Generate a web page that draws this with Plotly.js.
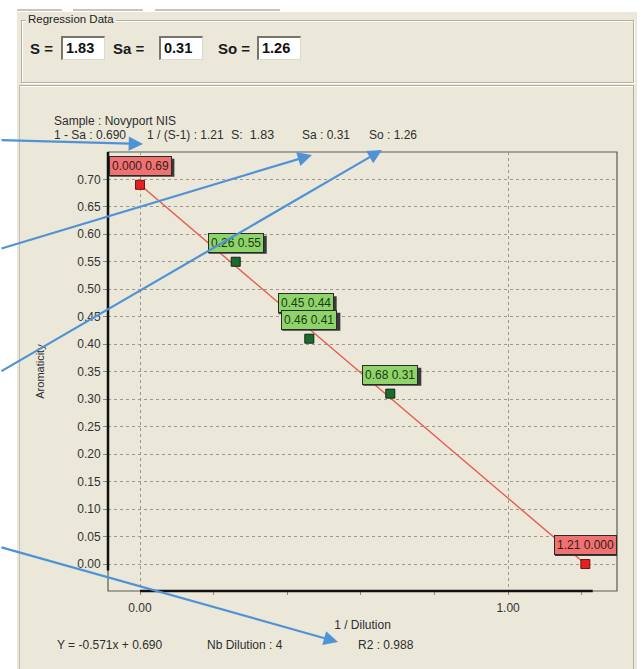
<!DOCTYPE html>
<html>
<head>
<meta charset="utf-8">
<script src="https://cdn.plot.ly/plotly-3.0.1.min.js"></script>
<style>
  html, body { margin:0; padding:0; background:#ffffff; }
  #stage { position:absolute; left:0; top:0; width:643px; height:669px; overflow:hidden;
           font-family:"Liberation Sans", Arial, sans-serif; }
  .abs { position:absolute; }
  #win { left:17px; top:12px; width:620px; height:657px; background:#ebe8da; }
  .tab { height:2px; background:#c8c6bc; top:9px; }
  #group { left:21px; top:20px; width:611px; height:61px; border:1px solid #b3b0a2;
           box-shadow: inset 1px 1px 0 #ffffff, 1px 1px 0 #ffffff; }
  #glegend { left:26px; top:13px; font-size:11.5px; color:#222; background:#ebe8da; padding:0 2px; }
  .lbl { font-size:15px; font-weight:bold; color:#1a1a1a; top:40px; }
  .box { top:36px; width:44px; height:24px; background:#fff;
         border-top:2px solid #77756c; border-left:2px solid #77756c;
         border-right:1px solid #dcdad0; border-bottom:1px solid #dcdad0;
         font-size:14.5px; font-weight:bold; color:#111; box-sizing:border-box; padding:2px 0 0 3px; }
  #panel { left:19px; top:85px; width:613px; height:590px; border-top:1px solid #b3b0a2;
           border-left:1px solid #c4c1b4; border-right:1px solid #b3b0a2;
           box-shadow: inset 0 1px 0 #ffffff; }
  #plot { position:absolute; left:0; top:0; width:643px; height:669px; }
</style>
</head>
<body>
<div id="stage">
  <div id="win" class="abs"></div>
  <div class="abs tab" style="left:17px;width:45px;"></div>
  <div class="abs tab" style="left:73px;width:70px;"></div>
  <div class="abs tab" style="left:155px;width:125px;"></div>
  <div id="group" class="abs"></div>
  <div id="glegend" class="abs">Regression Data</div>
  <div class="abs lbl" style="left:30px;">S =</div>
  <div class="abs box" id="boxS" style="left:61px;"></div>
  <div class="abs lbl" style="left:113px;">Sa =</div>
  <div class="abs box" id="boxSa" style="left:159px;"></div>
  <div class="abs lbl" style="left:218px;">So =</div>
  <div class="abs box" id="boxSo" style="left:257px;"></div>
  <div id="panel" class="abs"></div>
  <div id="plot"></div>
</div>
<script>
// ---------- data ----------
const S = 1.83, Sa = 0.31, So = 1.26;
const sampleName = 'Novyport NIS';
const oneMinusSa = 0.690, invSminus1 = 1.21;
const slope = -0.571, intercept = 0.690, nbDilution = 4, r2 = 0.988;
const dilutionX = [0.26, 0.45, 0.46, 0.68];
const aromaticityY = [0.55, 0.44, 0.41, 0.31];
const interceptX = [0.000, 1.21];
const interceptY = [0.69, 0.000];
const xTickVals = [0, 1];
const xTickText = ['0.00', '1.00'];

document.getElementById('boxS').textContent = S.toFixed(2);
document.getElementById('boxSa').textContent = Sa.toFixed(2);
document.getElementById('boxSo').textContent = So.toFixed(2);

// ---------- geometry helpers (plot area 108..617 x 152..591) ----------
const L = 108, R = 617, T = 152, B = 591;
const px = x => (x - L) / (R - L);
const py = y => (B - y) / (B - T);
const fmt = v => (v === 0 ? '0.000' : v.toFixed(2));
const FONT = '"Liberation Sans", Arial, sans-serif';

const ctx = document.createElement('canvas').getContext('2d');
ctx.font = '12px "Liberation Sans", Arial, sans-serif';

const traces = [
  { x: interceptX, y: interceptY, mode: 'lines', type: 'scatter',
    line: { color: '#e8584e', width: 1.4 }, hoverinfo: 'skip', cliponaxis: false },
  { x: dilutionX, y: aromaticityY, mode: 'markers', type: 'scatter',
    marker: { symbol: 'square', size: 9, color: '#1b6a2e', line: { color: '#0d2a12', width: 1 } },
    cliponaxis: false },
  { x: interceptX, y: interceptY, mode: 'markers', type: 'scatter',
    marker: { symbol: 'square', size: 9, color: '#e3211f', line: { color: '#7a1010', width: 1 } },
    cliponaxis: false }
];

const ann = [];
const shapes = [
  { type: 'rect', xref: 'paper', yref: 'paper', x0: 0, x1: 1, y0: 0, y1: 1,
    line: { color: '#5a5a55', width: 1.2 }, layer: 'below' },
  { type: 'line', xref: 'paper', yref: 'y', x0: 0, x1: 0, y0: -0.012, y1: 0.7497,
    line: { color: '#111', width: 2.5 } },
  { type: 'line', xref: 'x', yref: 'paper', x0: 0, x1: 1.23, y0: 0, y1: 0,
    line: { color: '#111', width: 2.5 } }
];

const LBL_SHIFT = 19, LBL_H = 18;
function addLabel(x, y, fill, txtColor) {
  const text = fmt(x) + ' ' + fmt(y);
  const w = ctx.measureText(text).width + 8;
  // drop shadow (pixel-sized shape anchored at the data point)
  shapes.push({ type: 'rect', xref: 'x', yref: 'y', xsizemode: 'pixel', ysizemode: 'pixel',
    xanchor: x, yanchor: y, layer: 'above',
    x0: -w / 2 + 2, x1: w / 2 + 2, y0: LBL_SHIFT - LBL_H / 2 - 2, y1: LBL_SHIFT + LBL_H / 2 - 2,
    fillcolor: '#3a3a3a', line: { width: 0 } });
  ann.push({ x: x, y: y, xref: 'x', yref: 'y', text: text, showarrow: false,
    yshift: LBL_SHIFT, bgcolor: fill, bordercolor: '#2a2a2a', borderwidth: 1, borderpad: 2,
    font: { family: FONT, size: 12, color: txtColor } });
}
addLabel(interceptX[0], interceptY[0], '#ef7272', '#3a1a1a');
dilutionX.forEach((x, i) => addLabel(x, aromaticityY[i], '#8fd46a', '#1d3a14'));
addLabel(interceptX[1], interceptY[1], '#ef7272', '#3a1a1a');

// header / footer texts
function txt(x, y, s, size, anchor) {
  ann.push({ xref: 'paper', yref: 'paper', x: px(x), y: py(y), text: s, showarrow: false,
    xanchor: anchor || 'left', yanchor: 'middle', font: { family: FONT, size: size || 12, color: '#2e2e2e' } });
}
txt(52, 121, 'Sample : ' + sampleName);
txt(52, 135, '1 - Sa : ' + oneMinusSa.toFixed(3));
txt(145, 135, '1 / (S-1) : ' + invSminus1.toFixed(2));
txt(229, 135, 'S:  ' + S.toFixed(2), 12.5);
txt(300, 135, 'Sa : ' + Sa.toFixed(2));
txt(367, 135, 'So : ' + So.toFixed(2));
txt(55, 645, 'Y = ' + slope.toFixed(3) + 'x + ' + intercept.toFixed(3));
txt(205, 645, 'Nb Dilution : ' + nbDilution);
txt(356, 645, 'R2 : ' + r2.toFixed(3));

// blue callout arrows
function arrow(tx, ty, sx, sy) {
  ann.push({ xref: 'paper', yref: 'paper', x: px(tx), y: py(ty), ax: sx - tx, ay: sy - ty,
    text: '', showarrow: true, arrowhead: 2, arrowsize: 1.3, arrowwidth: 2.2, arrowcolor: '#4f93d6' });
}
arrow(143, 144, -4, 140);
arrow(312, 155, -4, 249);
arrow(382, 150, -4, 372);
arrow(338, 642, -4, 547);

const layout = {
  width: 643, height: 669,
  margin: { l: L, r: 643 - R, t: T, b: 669 - B, pad: 0 },
  paper_bgcolor: 'rgba(0,0,0,0)', plot_bgcolor: 'rgba(0,0,0,0)',
  showlegend: false,
  font: { family: FONT, size: 12, color: '#333' },
  xaxis: {
    range: [-0.087, 1.296], tickmode: 'array', tickvals: xTickVals, ticktext: xTickText,
    ticks: 'outside', ticklen: 3, tickcolor: '#888', showline: false, zeroline: false,
    ticklabelstandoff: 3,
    showgrid: true, gridcolor: '#9c988b', griddash: '3px,3px', gridwidth: 1,
    tickfont: { family: FONT, size: 12, color: '#333' },
    minor: { tickmode: 'array', tickvals: [0.2, 0.4, 0.6, 0.8, 1.2], ticks: 'outside', ticklen: 3,
             tickcolor: '#888', showgrid: false },
    title: { text: '1 / Dilution', standoff: 6, font: { family: FONT, size: 12, color: '#2e2e2e' } }
  },
  yaxis: {
    range: [-0.0491, 0.7497], tick0: 0, dtick: 0.05, tickformat: '.2f',
    ticks: 'outside', ticklen: 4, tickcolor: '#888', showline: false, zeroline: false,
    showgrid: true, gridcolor: '#9c988b', griddash: '3px,3px', gridwidth: 1,
    tickfont: { family: FONT, size: 12, color: '#333' },
    title: { text: 'Aromaticity', standoff: 30, font: { family: FONT, size: 11, color: '#2e2e2e' } }
  },
  shapes: shapes,
  annotations: ann
};

Plotly.newPlot('plot', traces, layout, { displayModeBar: false, staticPlot: true });
</script>
</body>
</html>
